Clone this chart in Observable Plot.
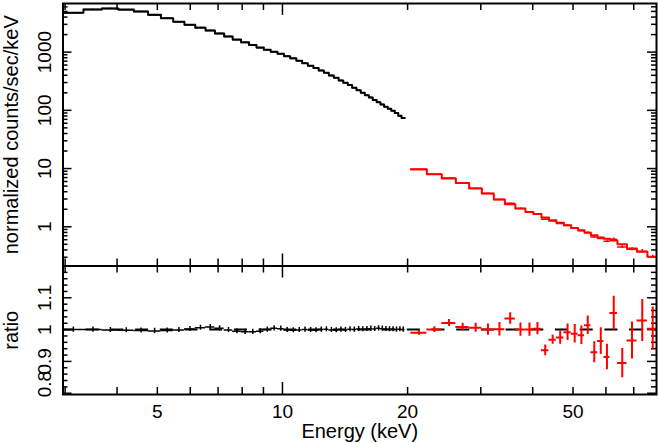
<!DOCTYPE html>
<html><head><meta charset="utf-8">
<script src="https://cdn.jsdelivr.net/npm/d3@7"></script>
<script src="https://cdn.jsdelivr.net/npm/@observablehq/plot@0.6"></script>
<style>
html,body{margin:0;padding:0;background:#fff;}
#chart{position:relative;width:659px;height:443px;overflow:hidden;background:#fff;}
#chart svg{position:absolute;left:0;}
</style></head><body><div id="chart"></div>
<script>
// ---- data ----
const blackEdges = [2.96, 3.32, 3.68, 4.03, 4.39, 4.75, 5.10, 5.46, 5.81, 6.17, 6.53, 6.88, 7.24, 7.59, 7.95, 8.31, 8.66, 9.02, 9.37, 9.73, 10.09, 10.44, 10.80, 11.15, 11.51, 11.87, 12.22, 12.58, 12.93, 13.29, 13.65, 14.00, 14.36, 14.71, 15.07, 15.43, 15.78, 16.14, 16.49, 16.85, 17.21, 17.56, 17.92, 18.27, 18.63, 18.99, 19.34, 19.70];
const blackModel = [4740, 5400, 5620, 5370, 4990, 4370, 3830, 3320, 2950, 2630, 2340, 2090, 1860, 1640, 1480, 1320, 1200, 1100, 1010, 933, 850, 782, 713, 646, 585, 531, 484, 442, 398, 363, 327, 299, 272, 245, 221, 200, 182, 166, 151, 138, 126, 115, 106, 98, 90, 81, 74];
const blackRatio = [1.000, 1.000, 0.999, 0.998, 0.997, 0.996, 0.997, 0.999, 1.002, 1.006, 1.008, 1.004, 0.999, 0.995, 0.993, 0.993, 0.995, 1.000, 1.004, 1.003, 0.999, 0.998, 0.999, 1.000, 0.999, 0.998, 1.000, 1.001, 0.999, 0.998, 1.000, 0.999, 1.001, 1.000, 1.002, 1.001, 1.002, 1.003, 1.002, 1.004, 1.003, 1.002, 1.001, 1.001, 1.000, 1.001, 1.000];
const blackErr = [0.008, 0.008, 0.008, 0.008, 0.008, 0.008, 0.008, 0.008, 0.008, 0.008, 0.008, 0.008, 0.008, 0.008, 0.008, 0.008, 0.008, 0.008, 0.008, 0.008, 0.008, 0.008, 0.008, 0.008, 0.008, 0.008, 0.008, 0.008, 0.008, 0.008, 0.008, 0.008, 0.008, 0.008, 0.008, 0.008, 0.008, 0.008, 0.008, 0.008, 0.008, 0.008, 0.008, 0.008, 0.008, 0.008, 0.008];

const redEdges = [20.36, 22.25, 24.17, 26.13, 28.13, 30.18, 32.25, 34.28, 36.33, 38.41, 40.15, 41.97, 43.75, 45.60, 47.54, 49.50, 51.45, 53.30, 55.21, 57.29, 59.34, 61.35, 63.96, 67.41, 71.24, 75.51, 80.00];
const redModel = [9.72, 7.98, 6.74, 5.66, 4.54, 3.72, 2.94, 2.44, 2.06, 1.80, 1.65, 1.44, 1.30, 1.17, 1.06, 0.957, 0.874, 0.786, 0.718, 0.655, 0.62, 0.58, 0.50, 0.424, 0.371, 0.305];
const redRatio = [0.990, 1.000, 1.021, 1.008, 1.006, 1.000, 1.001, 1.035, 1.000, 1.000, 1.003, 0.935, 0.968, 0.975, 0.992, 0.987, 0.982, 1.014, 0.929, 0.964, 0.914, 1.052, 0.895, 0.966, 1.029, 1.003];
const redErr = [0.008, 0.009, 0.011, 0.012, 0.014, 0.018, 0.021, 0.018, 0.021, 0.021, 0.019, 0.017, 0.014, 0.021, 0.026, 0.029, 0.029, 0.029, 0.033, 0.042, 0.040, 0.053, 0.046, 0.058, 0.066, 0.068];

const xTickLabels = [5, 10, 20, 50];
const xMajorTicks = [10];
const xMinorTicks = [3, 4, 5, 6, 7, 8, 9, 20, 30, 40, 50, 60, 70];
const topMajor = [1, 10, 100, 1000];
const topMinor = [0.3, 0.4, 0.5, 0.6, 0.7, 0.8, 0.9, 2, 3, 4, 5, 6, 7, 8, 9, 20, 30, 40, 50, 60, 70, 80, 90, 200, 300, 400, 500, 600, 700, 800, 900, 2000, 3000, 4000, 5000, 6000];
const ratioMajor = [0.8, 0.9, 1, 1.1];
const ratioMinor = [0.82, 0.84, 0.86, 0.88, 0.92, 0.94, 0.96, 0.98, 1.02, 1.04, 1.06, 1.08, 1.12, 1.14, 1.16, 1.18];
const ratioLabels = [0.9, 1, 1.1];
const ratioBottomLabel = [0.8];

// ---- build tables ----
function makeBins(edges, model, ratio, err) {
  return model.map((m, i) => ({
    lo: edges[i], hi: edges[i + 1], mid: (edges[i] + edges[i + 1]) / 2,
    model: m, ratio: ratio[i], err: err[i],
    data: m * ratio[i], dlo: m * (ratio[i] - err[i]), dhi: m * (ratio[i] + err[i])
  }));
}
const blackBins = makeBins(blackEdges, blackModel, blackRatio, blackErr);
const redBins = makeBins(redEdges, redModel, redRatio, redErr);
const steps = b => b.flatMap(d => [{x: d.lo, y: d.model}, {x: d.hi, y: d.model}]);

const W = 659, L = 62.5, R = 3;
const FW = W - L - R;
const xDomain = [2.965, 79.4];
const font = "'Liberation Sans', Arial, Helvetica, sans-serif";
const style = {fontFamily: font, fontSize: "19px", color: "black", background: "white", overflow: "visible"};
const tk = {stroke: "black", strokeWidth: 1.5};

function ticksX(vals, len, fh) {
  return [
    Plot.tickX(vals, {x: d => d, insetBottom: fh - len, ...tk}),
    Plot.tickX(vals, {x: d => d, insetTop: fh - len, ...tk})
  ];
}
function ticksY(vals, len) {
  return [
    Plot.tickY(vals, {y: d => d, insetRight: FW - len, ...tk}),
    Plot.tickY(vals, {y: d => d, insetLeft: FW - len, ...tk})
  ];
}

// ---- top panel ----
const topH = 266, topMT = 3, topMB = 0.5;
const topFH = topH - topMT - topMB;
const topPlot = Plot.plot({
  width: W, height: topH, marginLeft: L, marginRight: R, marginTop: topMT, marginBottom: topMB,
  style,
  x: {type: "log", domain: xDomain, axis: null},
  y: {type: "log", domain: [0.212, 6840], axis: null},
  marks: [
    ...ticksX(xMinorTicks, 7, topFH),
    ...ticksX(xMajorTicks, 12, topFH),
    ...ticksY(topMinor, 5),
    ...ticksY(topMajor, 9),
    Plot.line(steps(blackBins), {x: "x", y: "y", stroke: "black", strokeWidth: 2, clip: true}),
    Plot.line(steps(redBins), {x: "x", y: "y", stroke: "#ff0000", strokeWidth: 2, clip: true}),
    Plot.ruleY(blackBins, {y: "data", x1: "lo", x2: "hi", stroke: "black", strokeWidth: 1.5, clip: true}),
    Plot.ruleX(blackBins, {x: "mid", y1: "dlo", y2: "dhi", stroke: "black", strokeWidth: 1.5, clip: true}),
    Plot.ruleY(redBins, {y: "data", x1: "lo", x2: "hi", stroke: "#ff0000", strokeWidth: 1.5, clip: true}),
    Plot.ruleX(redBins, {x: "mid", y1: "dlo", y2: "dhi", stroke: "#ff0000", strokeWidth: 1.5, clip: true}),
    Plot.text(topMajor, {y: d => d, text: d => String(d), frameAnchor: "left", dx: -18.5, rotate: -90,
      fontSize: 19, fill: "black", textAnchor: "middle", lineAnchor: "middle"}),
    Plot.text(["normalized counts/sec/keV"], {text: d => d, frameAnchor: "left", dx: -51, rotate: -90,
      fontSize: 20, fill: "black", textAnchor: "middle", lineAnchor: "middle"}),
    Plot.frame({stroke: "black", strokeWidth: 2})
  ]
});

// ---- ratio panel ----
const botH = 178, botMT = 0.5, botMB = 49;
const botFH = botH - botMT - botMB;
const botPlot = Plot.plot({
  width: W, height: botH, marginLeft: L, marginRight: R, marginTop: botMT, marginBottom: botMB,
  style,
  x: {type: "log", domain: xDomain},
  y: {domain: [0.796, 1.2], axis: null},
  marks: [
    ...ticksX(xMinorTicks, 7, botFH),
    ...ticksX(xMajorTicks, 12, botFH),
    ...ticksY(ratioMinor, 5),
    ...ticksY(ratioMajor, 9),
    Plot.ruleY([1], {y: d => d, stroke: "black", strokeWidth: 2, strokeDasharray: "13,11.7", strokeDashoffset: 1.5}),
    Plot.ruleY(blackBins, {y: "ratio", x1: "lo", x2: "hi", stroke: "black", strokeWidth: 1.5, clip: true}),
    Plot.ruleX(blackBins, {x: "mid", y1: d => d.ratio - d.err, y2: d => d.ratio + d.err, stroke: "black", strokeWidth: 1.5, clip: true}),
    Plot.ruleY(redBins, {y: "ratio", x1: "lo", x2: "hi", stroke: "#ff0000", strokeWidth: 2, clip: true}),
    Plot.ruleX(redBins, {x: "mid", y1: d => d.ratio - d.err, y2: d => d.ratio + d.err, stroke: "#ff0000", strokeWidth: 2, clip: true}),
    Plot.axisX({ticks: xTickLabels, tickSize: 0, tickPadding: 9.5, fontSize: 19, label: null, tickFormat: d => String(d), fill: "black"}),
    Plot.text(["Energy (keV)"], {text: d => d, frameAnchor: "bottom", dy: 36.6, fontSize: 20, fill: "black", lineAnchor: "middle"}),
    Plot.text(ratioLabels, {y: d => d, text: d => String(d), frameAnchor: "left", dx: -18.5, rotate: -90,
      fontSize: 19, fill: "black", textAnchor: "middle", lineAnchor: "middle"}),
    Plot.text(ratioBottomLabel, {y: d => d, text: d => String(d), frameAnchor: "left", dx: -18.5, dy: 4, rotate: -90,
      fontSize: 19, fill: "black", textAnchor: "start", lineAnchor: "middle"}),
    Plot.text(["ratio"], {text: d => d, frameAnchor: "left", dx: -51, rotate: -90,
      fontSize: 20, fill: "black", textAnchor: "middle", lineAnchor: "middle"}),
    Plot.frame({stroke: "black", strokeWidth: 2})
  ]
});

const chart = document.getElementById("chart");
topPlot.style.top = "0px";
botPlot.style.top = "265px";
chart.appendChild(topPlot);
chart.appendChild(botPlot);
</script>
</body></html>
